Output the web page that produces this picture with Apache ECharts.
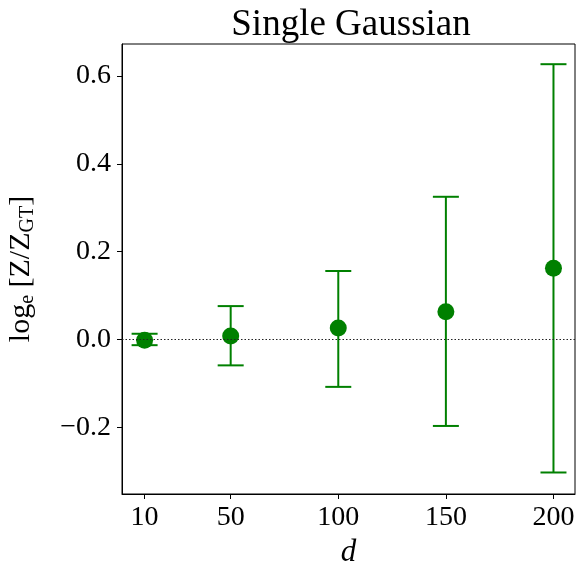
<!DOCTYPE html>
<html>
<head>
<meta charset="utf-8">
<script src="https://cdn.jsdelivr.net/npm/echarts@6/dist/echarts.min.js"></script>
<style>
  html, body { margin: 0; padding: 0; background: #fff; }
  #chart { width: 577px; height: 564px; }
</style>
</head>
<body>
<div id="chart"></div>
<script>
// dimension d and the log-ratio estimates
const dims = [10, 50, 100, 150, 200]
const means = [-0.002, 0.008, 0.026, 0.063, 0.162]
const lower = [-0.013, -0.059, -0.108, -0.197, -0.303]
const upper = [0.013, 0.076, 0.156, 0.325, 0.627]
const xTicks = [10, 50, 100, 150, 200]
const yTicks = [-0.2, 0.0, 0.2, 0.4, 0.6]

const green = '#008000'
const font = 'Liberation Serif'

const chart = echarts.init(document.getElementById('chart'))

chart.setOption({
  animation: false,
  title: {
    text: 'Single Gaussian',
    left: 346,
    textAlign: 'center',
    top: 2,
    textStyle: { fontFamily: font, fontSize: 37, fontWeight: 'normal', color: '#000' }
  },
  grid: {
    left: 122, right: 2, top: 44, bottom: 70,
    outerBoundsMode: 'none',
    show: true, borderColor: '#000', borderWidth: 1
  },
  xAxis: {
    type: 'value',
    min: -0.5,
    max: 210,
    name: 'd',
    nameLocation: 'middle',
    nameGap: 40,
    nameTextStyle: { fontFamily: font, fontStyle: 'italic', fontSize: 31, color: '#000' },
    axisLine: { show: true, onZero: false, lineStyle: { color: '#000', width: 1 } },
    axisTick: { show: true, customValues: xTicks, length: 5, lineStyle: { color: '#000' } },
    axisLabel: {
      customValues: xTicks,
      margin: 10,
      fontFamily: font, fontSize: 28, color: '#000'
    },
    splitLine: { show: false }
  },
  yAxis: {
    type: 'value',
    min: -0.352,
    max: 0.673,
    name: '{t|log}{s|e}{t| [Z/Z}{s|GT}{t|]}',
    nameLocation: 'middle',
    nameGap: 84,
    nameRotate: 90,
    nameTextStyle: {
      fontFamily: font, color: '#000',
      rich: {
        t: { fontFamily: font, fontSize: 30, color: '#000' },
        s: { fontFamily: font, fontSize: 20, color: '#000', padding: [14, 0, 0, 0] }
      }
    },
    axisLine: { show: true, onZero: false, lineStyle: { color: '#000', width: 1 } },
    axisTick: { show: true, customValues: yTicks, length: 5, lineStyle: { color: '#000' } },
    axisLabel: {
      customValues: yTicks,
      margin: 11,
      fontFamily: font, fontSize: 28, color: '#000',
      formatter: v => (v < 0 ? '\u2212' : '') + Math.abs(v).toFixed(1)
    },
    splitLine: { show: false }
  },
  series: [
    {
      type: 'custom',
      data: dims.map((d, i) => [d, lower[i], upper[i]]),
      renderItem: (params, api) => {
        const lo = api.coord([api.value(0), api.value(1)])
        const hi = api.coord([api.value(0), api.value(2)])
        const half = 13
        const style = { stroke: green, lineWidth: 2 }
        return {
          type: 'group',
          children: [
            { type: 'line', shape: { x1: lo[0], y1: lo[1], x2: hi[0], y2: hi[1] }, style },
            { type: 'line', shape: { x1: lo[0] - half, y1: lo[1], x2: lo[0] + half, y2: lo[1] }, style },
            { type: 'line', shape: { x1: hi[0] - half, y1: hi[1], x2: hi[0] + half, y2: hi[1] }, style }
          ]
        }
      },
      z: 2
    },
    {
      type: 'scatter',
      data: dims.map((d, i) => [d, means[i]]),
      symbol: 'circle',
      symbolSize: 17,
      itemStyle: { color: green, opacity: 1 },
      z: 3,
      markLine: {
        silent: true,
        symbol: 'none',
        label: { show: false },
        lineStyle: { color: '#222', type: [1.5, 2], width: 1.2 },
        data: [{ yAxis: 0 }]
      }
    }
  ]
})
</script>
</body>
</html>
